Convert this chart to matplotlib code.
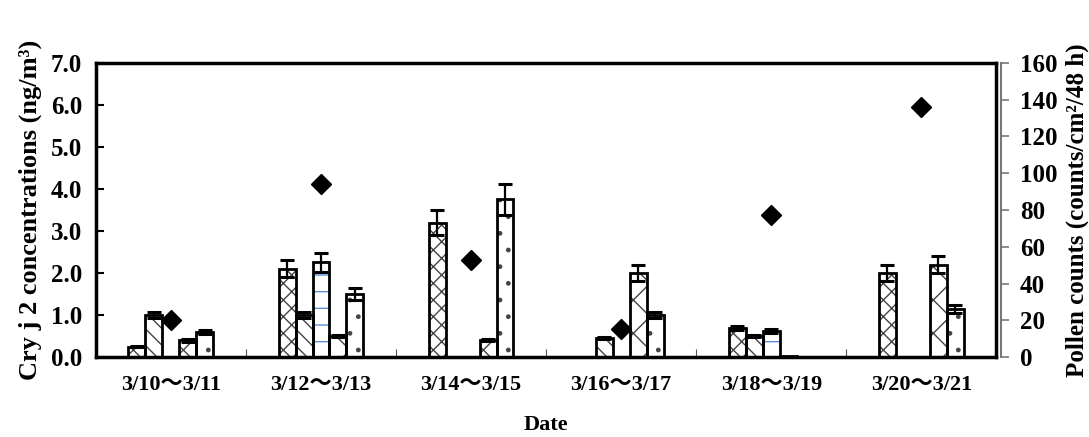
import numpy as np
import matplotlib.pyplot as plt

plt.rcParams['font.family'] = ['Liberation Serif', 'Noto Sans CJK JP']
plt.rcParams['font.weight'] = 'bold'
plt.rcParams['hatch.linewidth'] = 1.0

dates = ['3/10～3/11', '3/12～3/13', '3/14～3/15', '3/16～3/17', '3/18～3/19', '3/20～3/21']

# Cry j 2 concentrations (ng/m3), five samplers per period
s1 = [0.25, 2.10, 3.20, 0.00, 0.70, 2.00]
s2 = [1.00, 1.00, 0.00, 0.45, 0.50, 0.00]
s3 = [0.00, 2.25, 0.00, 0.00, 0.62, 0.00]
s4 = [0.40, 0.50, 0.40, 2.00, 0.03, 2.20]
s5 = [0.60, 1.50, 3.75, 1.00, 0.00, 1.15]
e1 = [0.02, 0.20, 0.30, 0.00, 0.05, 0.18]
e2 = [0.08, 0.08, 0.00, 0.03, 0.03, 0.00]
e3 = [0.00, 0.22, 0.00, 0.00, 0.05, 0.00]
e4 = [0.04, 0.03, 0.03, 0.20, 0.00, 0.20]
e5 = [0.05, 0.15, 0.37, 0.08, 0.00, 0.10]

# pollen counts (counts/cm2/48 h)
pollen = [20, 94, 53, 15, 77, 136]

series = [s1, s2, s3, s4, s5]
errs = [e1, e2, e3, e4, e5]
hatches = ['xx', '\\\\', '-', 'x', '.']
hcolors = ['#444444', '#444444', '#5b8fd6', '#444444', '#444444']

fig = plt.figure(figsize=(10.89, 4.37), dpi=100)
ax = fig.add_axes([0.088, 0.183, 0.827, 0.673])
ax2 = ax.twinx()

x = np.arange(len(dates))
w = 0.113
for k in range(5):
    pos = x + (k - 2) * w
    vals = np.array(series[k])
    er = np.array(errs[k])
    m = vals > 0
    # hatch layer, then black outline
    ax.bar(pos[m], vals[m], w, color='white', edgecolor=hcolors[k],
           hatch=hatches[k], linewidth=0, zorder=2)
    ax.bar(pos[m], vals[m], w, color='none', edgecolor='black',
           linewidth=2.0, zorder=3)
    me = m & (er > 0)
    ax.errorbar(pos[me], vals[me], yerr=er[me], fmt='none', ecolor='black',
                elinewidth=1.6, capsize=5, capthick=2.2, zorder=4)

ax2.plot(x, pollen, 'D', color='black', markersize=10, zorder=5)

ax.set_xlim(-0.5, 5.5)
ax.set_ylim(0, 7)
ax.set_yticks(np.arange(0, 7.1, 1.0))
ax.set_yticklabels(['%.1f' % v for v in np.arange(0, 7.1, 1.0)])
ax.tick_params(axis='y', direction='in', length=6, width=1.5, pad=10, labelsize=18)

ax.set_xticks(np.arange(0.5, 5.5, 1.0))
ax.set_xticklabels([])
ax.tick_params(axis='x', which='major', direction='in', length=6, width=0.8, color='#555555')
ax.set_xticks(x, minor=True)
ax.set_xticklabels(dates, minor=True)
ax.tick_params(axis='x', which='minor', length=0, pad=13, labelsize=16)

for s in ['left', 'bottom', 'top', 'right']:
    ax.spines[s].set_linewidth(2.5)

ax2.set_ylim(0, 160)
ax2.set_yticks(np.arange(0, 161, 20))
ax2.set_yticklabels([str(v) for v in range(0, 161, 20)])
ax2.tick_params(axis='y', direction='out', length=6, width=1.2, color='#777777',
                pad=8, labelsize=18)
ax2.spines['right'].set_color('#777777')
ax2.spines['right'].set_linewidth(1.5)
ax2.spines['right'].set_position(('outward', 3))
for s in ['left', 'bottom', 'top']:
    ax2.spines[s].set_visible(False)

ax.set_xlabel('Date', fontsize=16, fontweight='bold', labelpad=14)
ax.set_ylabel('Cry j 2 concentrations (ng/m³)', fontsize=19, fontweight='bold', labelpad=6)
ax2.set_ylabel('Pollen counts (counts/cm²/48 h)', fontsize=18, fontweight='bold',
               rotation=90, labelpad=6)

fig.savefig('out.png', dpi=100)
